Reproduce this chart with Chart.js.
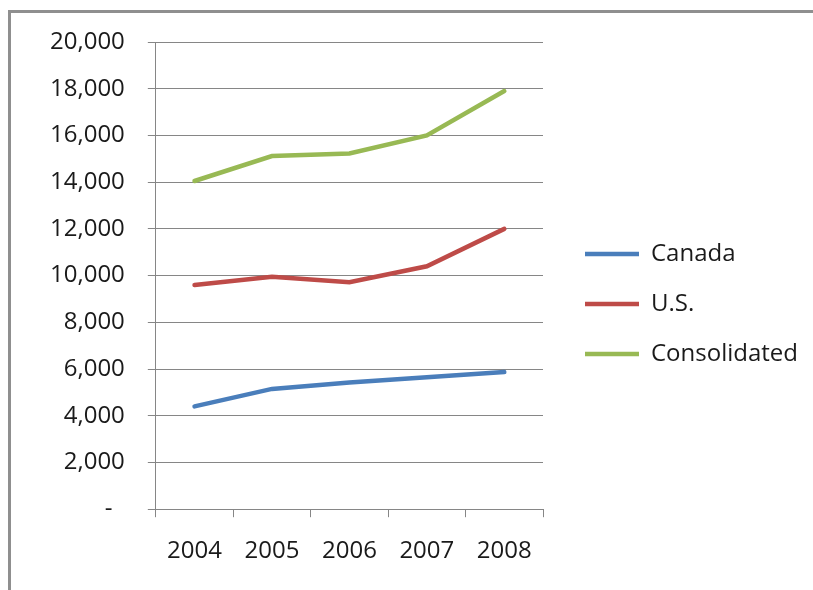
<!DOCTYPE html>
<html>
<head>
    <title>Canada / U.S. / Consolidated</title>
    <script src="https://cdn.jsdelivr.net/npm/chart.js"></script>
    <style>
        body {
            margin: 0;
            overflow: hidden;
            background: #fff;
        }

        #frame {
            position: absolute;
            left: 8px;
            top: 10px;
            width: 900px;
            height: 700px;
            border: 3px solid #8f8f8f;
        }

        #salesChart {
            position: absolute;
            left: 0;
            top: 0;
        }
    </style>
</head>
<body>
<div id="frame"></div>
<canvas id="salesChart" width="813" height="590"></canvas>
<script>
    const years = ['2004', '2005', '2006', '2007', '2008'];
    const canada = [4400, 5150, 5420, 5650, 5870];
    const us = [9600, 9950, 9720, 10400, 12000];
    const consolidated = [14050, 15120, 15230, 16000, 17900];

    const gridColor = '#868686';
    const textFont = {family: "'Open Sans', sans-serif", size: 24};

    // nudge the legend: a little right of the plot, a little up
    const legendShift = {
        id: 'legendShift',
        afterLayout(chart) {
            const lg = chart.legend;
            lg.left += 16;
            lg.right += 16;
            lg.top -= 10;
            lg.bottom -= 10;
        }
    };

    const ctx = document.getElementById('salesChart').getContext('2d');

    const salesChart = new Chart(ctx, {
        type: 'line',
        data: {
            labels: years,
            datasets: [
                {
                    label: 'Canada',
                    data: canada,
                    borderColor: '#4a7ebb',
                    backgroundColor: '#4a7ebb',
                    borderWidth: 4.5
                },
                {
                    label: 'U.S.',
                    data: us,
                    borderColor: '#be4b48',
                    backgroundColor: '#be4b48',
                    borderWidth: 4.5
                },
                {
                    label: 'Consolidated',
                    data: consolidated,
                    borderColor: '#98b954',
                    backgroundColor: '#98b954',
                    borderWidth: 4.5
                }
            ]
        },
        options: {
            responsive: false,
            animation: false,
            events: [],
            elements: {
                point: {radius: 0},
                line: {tension: 0, borderCapStyle: 'round'}
            },
            layout: {
                padding: {left: 27, top: 42, right: 21, bottom: 4}
            },
            plugins: {
                tooltip: {enabled: false},
                legend: {
                    position: 'right',
                    maxWidth: 270,
                    labels: {
                        usePointStyle: true,
                        pointStyle: 'line',
                        pointStyleWidth: 54,
                        padding: 26,
                        color: '#1a1a1a',
                        font: textFont
                    }
                }
            },
            scales: {
                x: {
                    offset: true,
                    grid: {
                        offset: true,
                        drawOnChartArea: false,
                        color: gridColor,
                        tickLength: 8
                    },
                    border: {color: gridColor},
                    ticks: {
                        color: '#1a1a1a',
                        font: textFont,
                        padding: 20,
                        maxRotation: 0
                    }
                },
                y: {
                    min: 0,
                    max: 20000,
                    grid: {
                        color: gridColor,
                        tickLength: 8
                    },
                    border: {color: gridColor},
                    ticks: {
                        stepSize: 2000,
                        color: '#1a1a1a',
                        font: textFont,
                        padding: 23,
                        callback: value => value === 0 ? '-  ' : value.toLocaleString('en-US')
                    }
                }
            }
        },
        plugins: [legendShift]
    });
</script>
</body>
</html>
